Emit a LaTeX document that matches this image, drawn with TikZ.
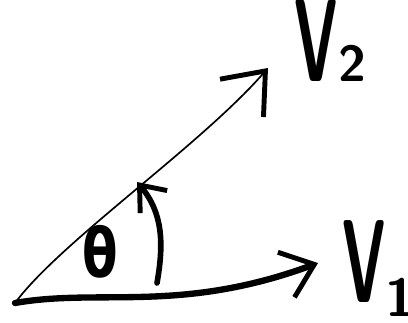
\documentclass[tikz,border=0pt]{standalone}
\usepackage{fontspec}
\newfontfamily\greekfont{DejaVu Sans}
\usetikzlibrary{arrows.meta}
\tikzset{
  handtip/.style={-{Straight Barb[length=#1, width=1.6*#1, line width=3.5pt]}},
  biglabel/.style={inner sep=0pt, anchor=base west, font=\fontsize{84}{84}\selectfont\sffamily\bfseries},
}
\newcommand{\tallV}{\scalebox{0.5}[1]{V}}

\begin{document}
\begin{tikzpicture}[line cap=round]
      \useasboundingbox (0,0) rectangle (10.2,8.05);
      \coordinate (O) at (0.375,0.475);
      \coordinate (v1tip) at (7.95,1.475);
      \coordinate (v2tip) at (6.7,6.35);
      \coordinate (arcstart) at (3.925,0.975);
      \coordinate (arcend) at (3.425,3.5);
      % vectors
      \draw[line width=4.5pt, handtip=0.75cm] (O) .. controls (2.5,0.85) and (4.5,0.2) .. (v1tip);
      \draw[line width=1.2pt, handtip=0.9cm] (O) .. controls (1.5,2.0) and (5.0,4.4) .. (v2tip);
      % angle
      \draw[line width=4pt, handtip=0.55cm] (arcstart) to[out=80, in=-50] (arcend);
      \node[font=\fontsize{46}{46}\selectfont\greekfont\bfseries] (angle) at (2.5,1.75) {\scalebox{0.8}[1.05]{θ}};
      \node[biglabel] (v2lab) at (7.35,6.0) {\tallV\hspace{1pt}{\fontsize{36}{36}\selectfont 2}};
      \node[biglabel] (v1lab) at (8.55,0.5) {\tallV\hspace{0pt}\raisebox{-0.35cm}{\fontsize{38}{38}\selectfont 1}};
    \end{tikzpicture}
\end{document}
